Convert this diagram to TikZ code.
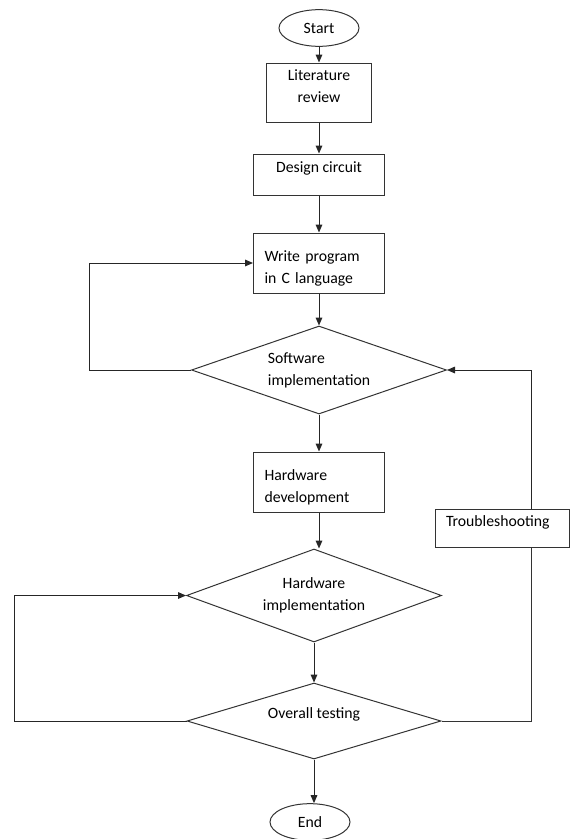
\documentclass[tikz,border=0pt]{standalone}
\usepackage{fontspec}
\setmainfont{Carlito}
\usetikzlibrary{shapes.geometric,arrows.meta}

\begin{document}
\begin{tikzpicture}[x=0.75pt,y=-0.75pt,line width=0.75pt,
  every node/.style={font=\fontsize{11.8pt}{16.5pt}\selectfont},
  term/.style={ellipse,draw=black!80,minimum width=60pt,minimum height=27.5pt,inner sep=0pt},
  pbox/.style={rectangle,draw=black!80,fill=white,align=center,inner sep=0pt,text depth=10pt},
  lbox/.style={rectangle,draw=black!80,fill=white,align=left,inner xsep=8.25pt,inner ysep=0pt,text depth=10pt},
  test/.style={diamond,draw=black!80,aspect=2.9,inner sep=0pt},
  arr/.style={draw=black!85,-{Triangle[length=6pt,width=5pt]}}]

\useasboundingbox (0,0) rectangle (570,839);

\node[term] (start) at (319,28) {Start};
\node[pbox,minimum width=78.75pt,minimum height=44.25pt] (lit) at (319,92.5) {Literature\\review};
\node[pbox,minimum width=98.25pt,minimum height=30.75pt,text depth=11.5pt] (design) at (319,174.5) {Design circuit};
\node[lbox,text width=81.75pt,minimum height=45pt] (write) at (319,263) {Write program\\in C language};
\node[test,minimum width=191.25pt,minimum height=66pt,align=left] (sw) at (319,370) {Software\\implementation};
\node[lbox,text width=81.75pt,minimum height=45pt] (hwdev) at (319,482) {Hardware\\development};
\node[test,minimum width=191.25pt,minimum height=69.75pt,align=center] (hwimp) at (314,595.5) {Hardware\\implementation};
\node[test,minimum width=190.5pt,minimum height=57pt,text depth=11.5pt] (ot) at (314,721) {Overall testing};
\node[term] (end) at (310,822) {End};
\node[lbox,text width=84pt,minimum height=28.5pt,text depth=11pt] (trouble) at (502,528) {Troubleshooting};

\foreach \a/\b in {start/lit,lit/design,design/write,write/sw,sw/hwdev}
  \draw[arr] (\a) -- (\b);
\draw[arr] (hwdev.south) -- (hwdev.south |- hwimp.north);
\draw[arr] (hwimp) -- (ot);
\draw[arr] (ot.south) -- (ot.south |- end.north);

\draw[arr] (sw.west) -- ++(-102,0) |- (write.west);
\draw[arr] (ot.west) -- ++(-172,0) |- (hwimp.west);
\draw[draw=black!80] (ot.east) -- ++(90,0) coordinate (fb) -- (fb |- trouble.south);
\draw[arr] (fb |- trouble.north) |- (sw.east);

\end{tikzpicture}
\end{document}
